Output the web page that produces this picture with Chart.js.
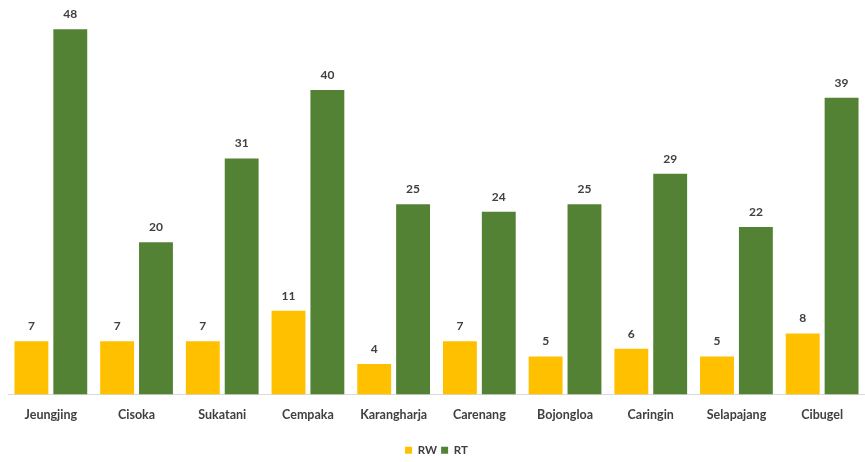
<!DOCTYPE html>
<html>
<head>
<meta charset="utf-8">
<script src="https://cdn.jsdelivr.net/npm/chart.js@4/dist/chart.umd.min.js"></script>
<style>
  html, body { margin: 0; padding: 0; background: #fff; }
  #wrap { width: 865px; height: 462px; }
</style>
</head>
<body>
<div id="wrap"><canvas id="chart"></canvas></div>
<script>
const villages = ['Jeungjing', 'Cisoka', 'Sukatani', 'Cempaka', 'Karangharja', 'Carenang', 'Bojongloa', 'Caringin', 'Selapajang', 'Cibugel'];
const rwValues = [7, 7, 7, 11, 4, 7, 5, 6, 5, 8];
const rtValues = [48, 20, 31, 40, 25, 24, 25, 29, 22, 39];

// draws the number above each bar
const barLabels = {
    id: 'barLabels',
    afterDatasetsDraw(chart) {
        const ctx = chart.ctx;
        ctx.save();
        ctx.font = 'bold 12px Lato';
        ctx.fillStyle = '#404040';
        ctx.textAlign = 'center';
        ctx.textBaseline = 'bottom';
        chart.data.datasets.forEach((ds, i) => {
            chart.getDatasetMeta(i).data.forEach((bar, j) => {
                ctx.fillText(ds.data[j], bar.x, bar.y - 9);
            });
        });
        ctx.restore();
    }
};

new Chart(document.getElementById('chart'), {
    type: 'bar',
    data: {
        labels: villages,
        datasets: [
            { label: 'RW', data: rwValues, backgroundColor: '#FFC000' },
            { label: 'RT', data: rtValues, backgroundColor: '#548235' }
        ]
    },
    options: {
        responsive: true,
        maintainAspectRatio: false,
        animation: false,
        categoryPercentage: 0.907,
        barPercentage: 0.872,
        layout: { padding: { left: 8, right: 0, top: 14, bottom: -4 } },
        scales: {
            x: {
                grid: { display: false },
                border: { color: '#d9d9d9' },
                ticks: { font: { family: 'Lato', size: 12.5, weight: 'bold' }, color: '#404040', padding: 5 },
                afterFit(scale) { scale.height = 46; }
            },
            y: { display: false, min: 0, max: 50 }
        },
        plugins: {
            legend: {
                position: 'bottom',
                labels: { boxWidth: 7, boxHeight: 7, font: { family: 'Lato', size: 11.5, weight: 'bold' }, color: '#404040', padding: 4 }
            },
            tooltip: { enabled: false }
        }
    },
    plugins: [barLabels]
});
</script>
</body>
</html>
